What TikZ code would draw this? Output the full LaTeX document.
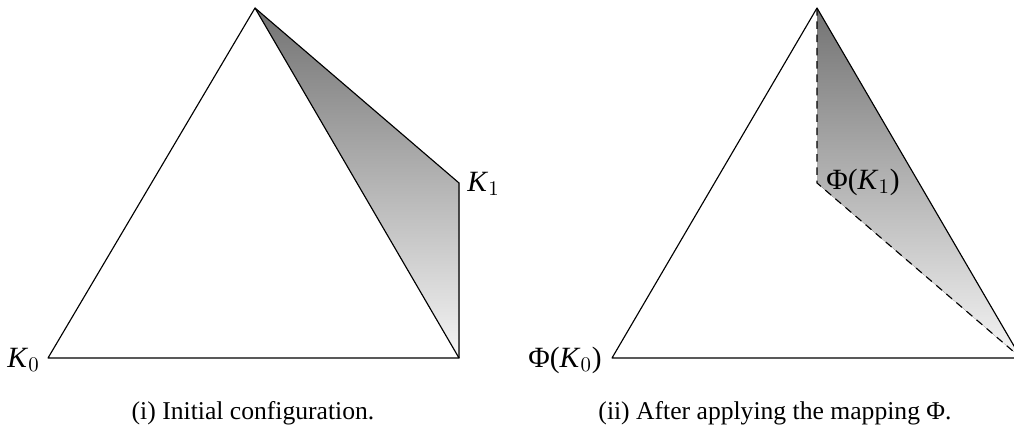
\documentclass[tikz,border=0pt]{standalone}
\usepackage{fontspec}
\setmainfont{Liberation Serif}
\begin{document}
\begin{tikzpicture}[x=0.527pt,y=-0.527pt,
  edge/.style={line width=0.6pt},
  dedge/.style={line width=0.6pt,dash pattern=on 4pt off 3pt},
  shadedreg/.style={top color=black!55,bottom color=black!4},
  lbl/.style={inner sep=0pt,font=\fontsize{15.5}{18}\selectfont},
  captext/.style={inner sep=0pt,anchor=base,font=\fontsize{13.5}{16}\selectfont}]
\useasboundingbox (0,0) rectangle (1014,430);
% left picture
\coordinate (A0) at (48,358);
\coordinate (A1) at (255,8);
\coordinate (A2) at (459,358);
\coordinate (AK) at (459,183);
\fill[shadedreg] (A1) -- (AK) -- (A2) -- cycle;
\draw[edge] (A1) -- (AK) -- (A2);
\draw[edge,line join=round] (A0) -- (A1) -- (A2) -- cycle;
\node[lbl,anchor=east] (k0) at (40,360) {\textit{K}$_0$};
\node[lbl,anchor=west] (k1) at (467,184) {\textit{K}$_1$};
% right picture (its right corner runs past the edge of the picture)
\coordinate (B0) at (612,358);
\coordinate (B1) at (817,8);
\coordinate (B2) at (1021,358);
\coordinate (BK) at (817,183);
\fill[shadedreg] (B1) -- (BK) -- (B2) -- cycle;
\draw[dedge] (B1) -- (BK) -- (B2);
\draw[edge,line join=round] (B0) -- (B1) -- (B2) -- cycle;
\node[lbl,anchor=east] (p0) at (602,360) {Φ(\textit{K}$_0$)};
\node[lbl,anchor=west] (p1) at (826,182) {Φ(\textit{K}$_1$)};
% captions
\node[captext] (c1) at (253,419) {(i) Initial configuration.};
\node[captext] (c2) at (775,419) {(ii) After applying the mapping Φ.};
\end{tikzpicture}
\end{document}
